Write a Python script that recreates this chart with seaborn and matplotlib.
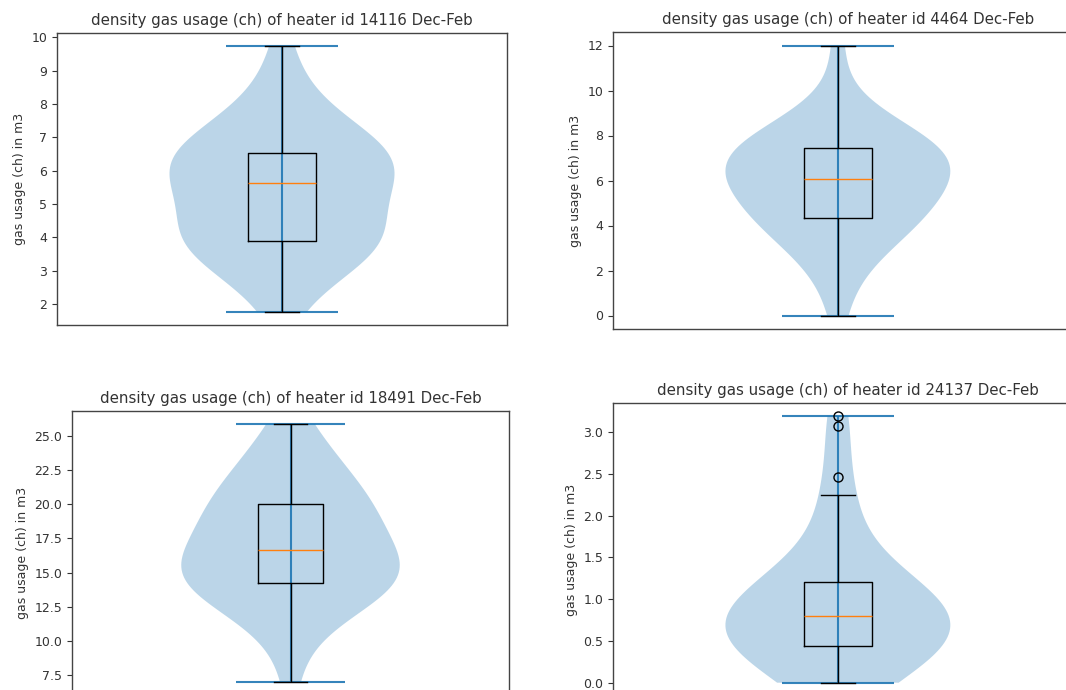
import matplotlib
matplotlib.use("Agg")
import matplotlib.pyplot as plt
import seaborn as sns
import numpy as np

# ---- data (daily gas usage, m3) ----
heater_ids = ["14116", "4464", "18491", "24137"]

usage_14116 = [1.77, 2.45, 2.85, 3.15, 3.40, 3.55, 3.66, 3.75, 3.82, 3.87,
               3.90, 3.97, 4.05, 4.15, 4.27, 4.45, 4.70, 4.98, 5.25, 5.48,
               5.63, 5.72, 5.81, 5.90, 5.99, 6.08, 6.16, 6.25, 6.34, 6.43,
               6.52, 6.62, 6.73, 6.86, 7.00, 7.18, 7.40, 7.70, 8.10, 8.70,
               9.73]
usage_4464 = [0.00, 1.50, 2.20, 2.70, 3.10, 3.45, 3.70, 3.90, 4.05, 4.20,
              4.32, 4.50, 4.70, 4.90, 5.10, 5.30, 5.50, 5.70, 5.85, 5.95,
              6.05, 6.15, 6.30, 6.45, 6.60, 6.75, 6.90, 7.05, 7.20, 7.32,
              7.44, 7.50, 7.58, 7.68, 7.80, 7.95, 8.15, 8.45, 8.90, 9.60,
              12.00]
usage_18491 = [7.00, 10.00, 11.30, 12.10, 12.70, 13.15, 13.50, 13.80, 14.00, 14.15,
               14.25, 14.40, 14.55, 14.70, 14.85, 15.00, 15.20, 15.45, 15.80, 16.20,
               16.62, 16.95, 17.30, 17.65, 18.00, 18.40, 18.75, 19.10, 19.45, 19.75,
               19.99, 20.30, 20.65, 21.05, 21.50, 22.00, 22.60, 23.25, 24.00, 24.85,
               25.85]
usage_24137 = [0.00, 0.02, 0.06, 0.12, 0.18, 0.24, 0.29, 0.33, 0.37, 0.41,
               0.44, 0.48, 0.52, 0.56, 0.60, 0.64, 0.68, 0.71, 0.74, 0.77,
               0.80, 0.82, 0.85, 0.88, 0.91, 0.94, 0.97, 1.01, 1.07, 1.14,
               1.21, 1.25, 1.31, 1.40, 1.55, 1.75, 2.00, 2.25, 2.46, 3.07,
               3.19]

yticks_14116 = [2, 3, 4, 5, 6, 7, 8, 9, 10]
yticks_4464 = [0, 2, 4, 6, 8, 10, 12]
yticks_18491 = [7.5, 10.0, 12.5, 15.0, 17.5, 20.0, 22.5, 25.0]
yticks_24137 = [0.0, 0.5, 1.0, 1.5, 2.0, 2.5, 3.0]

title_fmt = "density gas usage (ch) of heater id {} Dec-Feb"
ylabel = "gas usage (ch) in m3"

# ---- figure ----
W, H = 1066, 690
fig = plt.figure(figsize=(W / 100, H / 100), dpi=100)
fig.patch.set_facecolor("white")

def place(left, top, w, h):
    return fig.add_axes([left / W, 1 - (top + h) / H, w / W, h / H])

# pixel boxes (left, top, width, height); bottom/right panels run off the canvas
boxes = [(57, 33, 450, 292), (613, 32, 470, 297),
         (72, 411, 437, 284), (613, 403, 470, 293)]
datasets = [usage_14116, usage_4464, usage_18491, usage_24137]
ticksets = [yticks_14116, yticks_4464, yticks_18491, yticks_24137]
xlims = [(-0.5, 0.5), (-0.5, 0.545), (-0.5, 0.5), (-0.5, 0.545)]

C0 = "#1f77b4"
C1 = "#ff7f0e"
txt = "#333333"

for box, vals, yt, hid, xl in zip(boxes, datasets, ticksets, heater_ids, xlims):
    ax = place(*box)
    sns.violinplot(y=vals, ax=ax, color=C0, inner=None, cut=0, width=0.5,
                   linewidth=0, saturation=1, bw_adjust=1.2)
    for coll in ax.collections:
        coll.set_alpha(0.3)
        coll.set_edgecolor("none")
    vmin, vmax = min(vals), max(vals)
    ax.vlines(0, vmin, vmax, color=C0, linewidth=1.5, alpha=0.9)
    ax.hlines([vmin, vmax], -0.125, 0.125, color=C0, linewidth=1.5, alpha=0.9)
    sns.boxplot(y=vals, ax=ax, width=0.15, fill=False, color="black",
                linewidth=1.0, saturation=1,
                medianprops={"color": C1, "linewidth": 1.0},
                flierprops={"marker": "o", "markeredgecolor": "black",
                            "markerfacecolor": "none", "markersize": 6.5})
    ax.set_xlim(*xl)
    ax.set_xticks([])
    ax.set_xlabel("")
    ax.set_yticks(yt)
    ax.set_ylabel(ylabel, fontsize=9, color=txt)
    ax.set_title(title_fmt.format(hid), fontsize=10.8, color=txt, pad=6)
    ax.tick_params(axis="y", labelsize=9, labelcolor=txt, color=txt)
    for s in ax.spines.values():
        s.set_color("#444444")
        s.set_linewidth(1.0)

fig.savefig("out.png", dpi=100)
